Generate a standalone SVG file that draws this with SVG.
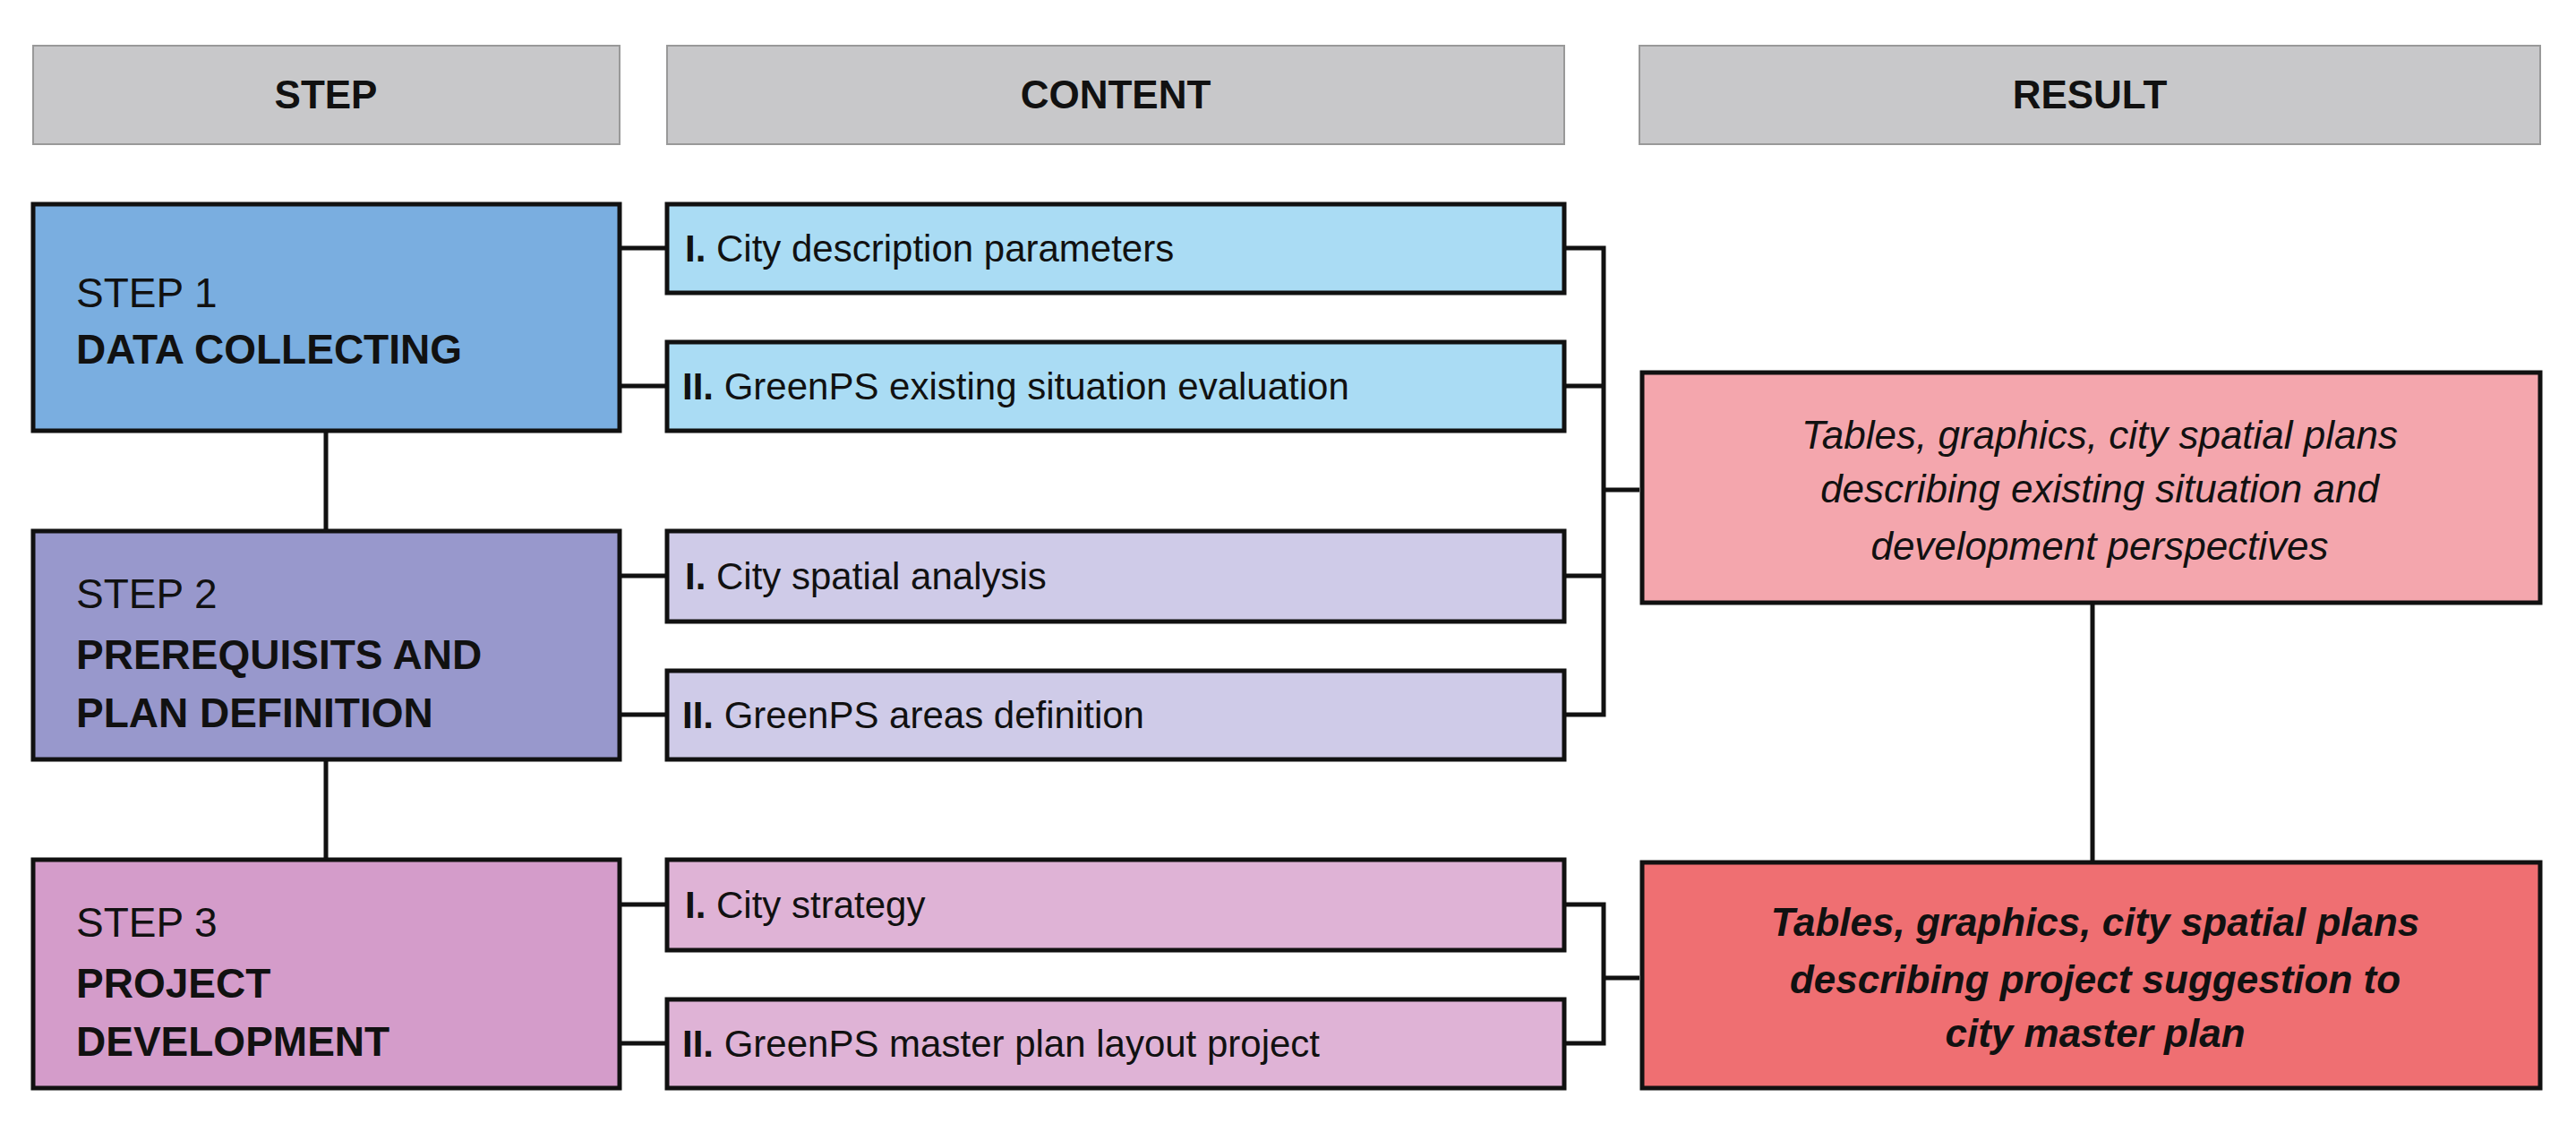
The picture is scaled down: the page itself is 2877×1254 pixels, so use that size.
<svg xmlns="http://www.w3.org/2000/svg" width="2877" height="1254" viewBox="0 0 2877 1254">
<style>
.b{stroke:#111;stroke-width:5}
.h{fill:#c8c8ca;stroke:#999;stroke-width:2}
text{font-family:"Liberation Sans",Arial,sans-serif;fill:#111}
.ht{font-size:44px;font-weight:bold;text-anchor:middle}
.st{font-size:46px}
.bd{font-weight:bold}
.ct{font-size:42px}
.rt{font-size:44px;font-style:italic;text-anchor:middle}
.ln{stroke:#111;stroke-width:5;fill:none}
</style>
<rect width="2877" height="1254" fill="#fff"/>
<g id="headers">
<rect class="h" x="37" y="51" width="655" height="110"/><text class="ht" x="364" y="121">STEP</text>
<rect class="h" x="745" y="51" width="1002" height="110"/><text class="ht" x="1246" y="121">CONTENT</text>
<rect class="h" x="1831" y="51" width="1006" height="110"/><text class="ht" x="2334" y="121">RESULT</text>
</g>
<g id="connectors">
<path class="ln" d="M692 277H745M692 431H745M692 643H745M692 798H745M692 1010H745M692 1165H745"/>
<path class="ln" d="M364 481V593M364 848V960"/>
<path class="ln" d="M1747 277H1791V798H1747M1747 431H1791M1747 643H1791M1791 547H1831"/>
<path class="ln" d="M2337 673V963"/>
<path class="ln" d="M1747 1010H1791V1165H1747M1791 1092H1831"/>
</g>
<g id="step1"><rect class="b" x="37" y="228" width="655" height="253" fill="#7aaee0"/>
<text class="st" x="85" y="343">STEP 1</text><text class="st bd" x="85" y="406">DATA COLLECTING</text></g>
<g id="step2"><rect class="b" x="37" y="593" width="655" height="255" fill="#9898cc"/>
<text class="st" x="85" y="679">STEP 2</text><text class="st bd" x="85" y="747">PREREQUISITS AND</text><text class="st bd" x="85" y="812">PLAN DEFINITION</text></g>
<g id="step3"><rect class="b" x="37" y="960" width="655" height="255" fill="#d49cca"/>
<text class="st" x="85" y="1046">STEP 3</text><text class="st bd" x="85" y="1114">PROJECT</text><text class="st bd" x="85" y="1179">DEVELOPMENT</text></g>
<g id="c1a"><rect class="b" x="745" y="228" width="1002" height="99" fill="#aadcf4"/><text class="ct" x="765" y="292"><tspan class="bd">I.</tspan> City description parameters</text></g>
<g id="c1b"><rect class="b" x="745" y="382" width="1002" height="99" fill="#aadcf4"/><text class="ct" x="762" y="446"><tspan class="bd">II.</tspan> GreenPS  existing situation evaluation</text></g>
<g id="c2a"><rect class="b" x="745" y="593" width="1002" height="101" fill="#cfcbe8"/><text class="ct" x="765" y="658"><tspan class="bd">I.</tspan> City spatial analysis</text></g>
<g id="c2b"><rect class="b" x="745" y="749" width="1002" height="99" fill="#cfcbe8"/><text class="ct" x="762" y="813"><tspan class="bd">II.</tspan> GreenPS areas definition</text></g>
<g id="c3a"><rect class="b" x="745" y="960" width="1002" height="101" fill="#dfb3d6"/><text class="ct" x="765" y="1025"><tspan class="bd">I.</tspan> City strategy</text></g>
<g id="c3b"><rect class="b" x="745" y="1116" width="1002" height="99" fill="#dfb3d6"/><text class="ct" x="762" y="1180"><tspan class="bd">II.</tspan> GreenPS master plan layout  project</text></g>
<g id="r1"><rect class="b" x="1834" y="416" width="1003" height="257" fill="#f4a6ad"/>
<text class="rt" x="2345" y="501">Tables, graphics, city spatial plans</text><text class="rt" x="2345" y="561">describing existing situation and</text><text class="rt" x="2345" y="625">development perspectives</text></g>
<g id="r2"><rect class="b" x="1834" y="963" width="1003" height="252" fill="#ef6f72"/>
<text class="rt bd" x="2340" y="1045">Tables, graphics, city spatial plans</text><text class="rt bd" x="2340" y="1109">describing project suggestion to</text><text class="rt bd" x="2340" y="1169">city master plan</text></g>
</svg>
